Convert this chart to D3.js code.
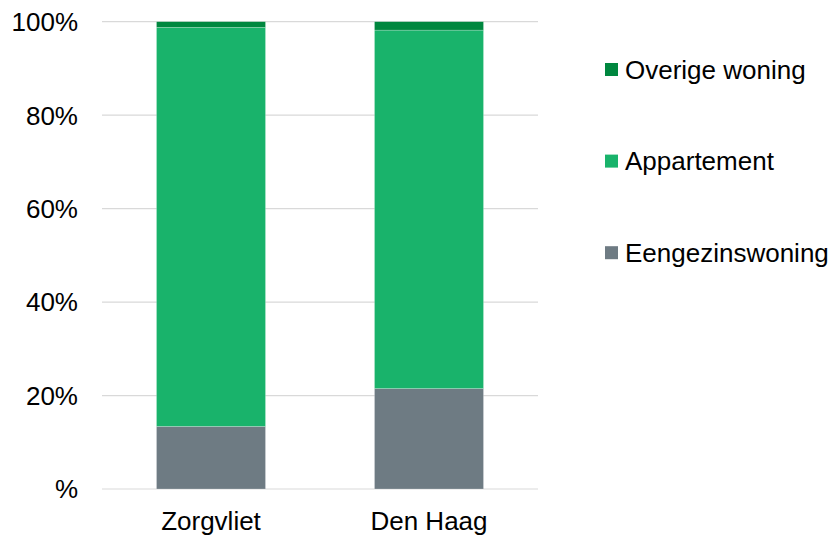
<!DOCTYPE html>
<html><head><meta charset="utf-8">
<script src="https://cdn.jsdelivr.net/npm/d3@7"></script>
<style>body{margin:0;background:#fff}svg{display:block}text{font-family:"Liberation Sans",Arial,sans-serif;fill:#000}</style>
</head><body><svg id="c" width="835" height="536"></svg>
<script>
const categories = ["Zorgvliet", "Den Haag"];
const seriesNames = ["Eengezinswoning", "Appartement", "Overige woning"];
const eengezinswoning = [13.4, 21.5];
const appartement = [85.4, 76.7];
const overige = [1.2, 1.8];
const tickValues = [0, 20, 40, 60, 80, 100];
const tickLabels = ["%", "20%", "40%", "60%", "80%", "100%"];
const colors = ["#6E7B83", "#19B36B", "#00873F"];

const svg = d3.select("#c");
const x = d3.scaleBand().domain(categories).range([102, 538]).paddingInner(0.5).paddingOuter(0.25);
const y = d3.scaleLinear().domain([0, 100]).range([489, 21.7]);

const rows = categories.map((c, i) => ({cat: c, "Eengezinswoning": eengezinswoning[i], "Appartement": appartement[i], "Overige woning": overige[i]}));
const stack = d3.stack().keys(seriesNames)(rows);

// gridlines
svg.append("g").selectAll("line").data(tickValues).join("line")
  .attr("x1", 102).attr("x2", 538)
  .attr("y1", d => y(d)).attr("y2", d => y(d))
  .attr("stroke", "#D9D9D9").attr("stroke-width", 1.2);

// y labels
svg.append("g").selectAll("text").data(tickValues).join("text")
  .attr("x", 78).attr("y", d => y(d)).attr("dy", "0.36em")
  .attr("text-anchor", "end").attr("font-size", 26)
  .text((d, i) => tickLabels[i]);

// bars
svg.append("g").selectAll("g").data(stack).join("g")
  .attr("fill", (d, i) => colors[i])
  .selectAll("rect").data(d => d).join("rect")
  .attr("x", d => x(d.data.cat))
  .attr("width", x.bandwidth())
  .attr("y", d => y(d[1]))
  .attr("height", d => y(d[0]) - y(d[1]))
  .attr("stroke", "#ffffff").attr("stroke-opacity", 0.35).attr("stroke-width", 0.6);

// x labels
svg.append("g").selectAll("text").data(categories).join("text")
  .attr("x", d => x(d) + x.bandwidth() / 2).attr("y", 530)
  .attr("text-anchor", "middle").attr("font-size", 26)
  .text(d => d);

// legend
const legendOrder = ["Overige woning", "Appartement", "Eengezinswoning"];
const lg = svg.append("g").selectAll("g").data(legendOrder).join("g")
  .attr("transform", (d, i) => `translate(605, ${69.5 + i * 91.6})`);
lg.append("rect").attr("x", 0).attr("y", -6.5).attr("width", 13).attr("height", 13)
  .attr("fill", d => colors[seriesNames.indexOf(d)]);
lg.append("text").attr("x", 20).attr("y", 0).attr("dy", "0.36em").attr("font-size", 26).text(d => d);
</script></body></html>
